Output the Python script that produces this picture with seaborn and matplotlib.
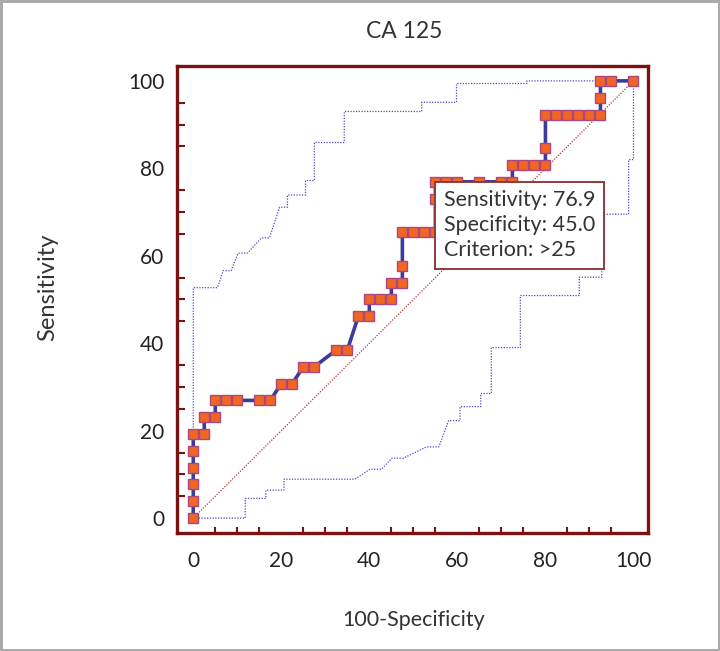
import numpy as np
import pandas as pd
import matplotlib
matplotlib.use("Agg")
import matplotlib.pyplot as plt
import seaborn as sns
from matplotlib.ticker import MultipleLocator

# Empirical ROC curve for CA 125 (100-Specificity vs Sensitivity)
roc_fpr = [0, 0, 0, 0, 0, 0, 2.5, 2.5, 5, 5, 7.5, 10, 15, 17.5, 20, 22.5, 25, 27.5,
           32.5, 35, 37.5, 40, 40, 42.5, 45, 45, 47.5, 47.5, 47.5, 50, 52.5, 55, 55, 55,
           57.5, 60, 65, 70, 72.5, 72.5, 75, 77.5, 80, 80, 80, 82.5, 85, 87.5, 90,
           92.5, 92.5, 92.5, 95, 100]
roc_tpr = [0, 3.85, 7.69, 11.54, 15.38, 19.23, 19.23, 23.08, 23.08, 26.92, 26.92, 26.92,
           26.92, 26.92, 30.77, 30.77, 34.62, 34.62, 38.46, 38.46, 46.15, 46.15, 50.0,
           50.0, 50.0, 53.85, 53.85, 57.69, 65.38, 65.38, 65.38, 65.38, 73.08, 76.92,
           76.92, 76.92, 76.92, 76.92, 76.92, 80.77, 80.77, 80.77, 80.77, 84.62, 92.31,
           92.31, 92.31, 92.31, 92.31, 92.31, 96.15, 100.0, 100.0, 100.0]

# 95% confidence bounds
upper_x = [0, 0, 5.5, 6.8, 8.6, 10.2, 12.3, 15.5, 17.3, 19.6, 21.4, 21.4, 25.5, 25.5,
           27.5, 27.5, 34.3, 34.3, 51.9, 51.9, 59.8, 59.8, 75.8, 75.8, 100]
upper_y = [0, 52.7, 52.7, 56.6, 56.6, 60.6, 60.6, 64.1, 64.1, 71.1, 71.1, 73.9, 73.9, 77.2,
           77.2, 85.9, 85.9, 93.0, 93.0, 95.1, 95.1, 99.4, 99.4, 100, 100]
lower_x = [0, 11.8, 11.8, 16.5, 16.5, 20.6, 20.6, 36.7, 40.2, 42.8, 45.1, 47.7, 53.0, 55.8,
           58.0, 60.6, 60.6, 65.3, 65.3, 67.7, 67.7, 74.3, 74.3, 87.7, 87.7, 92.8, 92.8,
           98.9, 98.9, 100, 100]
lower_y = [0, 0, 4.5, 4.5, 6.4, 6.4, 8.9, 8.9, 11.2, 11.2, 13.7, 13.7, 16.3, 16.3, 22.3,
           22.3, 25.5, 25.5, 28.5, 28.5, 39.0, 39.0, 50.9, 50.9, 55.1, 55.1, 69.5, 69.5,
           82.0, 82.0, 100]

diag = [0, 100]

crit_x, crit_y = 55, 76.92
info_lines = ["Sensitivity: 76.9", "Specificity: 45.0", "Criterion: >25"]

sns.set_theme(style="white")
plt.rcParams["font.family"] = ["Lato", "DejaVu Sans"]

spine_col = "#7a1214"
text_col = "#333333"

fig = plt.figure(figsize=(7.2, 6.51), dpi=100)
fig.patch.set_edgecolor("#aaaaaa")
fig.patch.set_linewidth(2.5)
ax = fig.add_axes([0.2458, 0.1813, 0.6542, 0.7173])

roc = pd.DataFrame({"fpr": roc_fpr, "tpr": roc_tpr})

# diagonal reference
sns.lineplot(x=diag, y=diag, ax=ax, color="#b03a3a", lw=0.9,
             linestyle=(0, (1, 1.2)), zorder=2)
# confidence bounds
sns.lineplot(x=upper_x, y=upper_y, ax=ax, sort=False, estimator=None,
             color="#4b4bc4", lw=0.9, linestyle=(0, (1, 1.2)), zorder=2)
sns.lineplot(x=lower_x, y=lower_y, ax=ax, sort=False, estimator=None,
             color="#4b4bc4", lw=0.9, linestyle=(0, (1, 1.2)), zorder=2)
# ROC curve
sns.lineplot(data=roc, x="fpr", y="tpr", ax=ax, sort=False, estimator=None,
             color="#3b3b9c", lw=2.6, marker="s", markersize=7.8,
             markerfacecolor="#f26522", markeredgecolor="#a8487e",
             markeredgewidth=1.0, zorder=3)

ax.annotate("\n".join(info_lines), xy=(crit_x, crit_y), xytext=(6.2, -6.2),
            textcoords="offset points", ha="left", va="top", fontsize=15.5,
            color=text_col, linespacing=1.3, zorder=5,
            bbox=dict(boxstyle="square,pad=0.4", fc="white", ec="#8e3a3a", lw=1.4))

ax.set_xlim(-3.7, 103.3)
ax.set_ylim(-3.4, 103.4)
ax.xaxis.set_major_locator(MultipleLocator(20))
ax.xaxis.set_minor_locator(MultipleLocator(5))
ax.yaxis.set_major_locator(MultipleLocator(20))
ax.yaxis.set_minor_locator(MultipleLocator(5))

for s in ax.spines.values():
    s.set_visible(True)
    s.set_color(spine_col)
    s.set_linewidth(2.4)

ax.tick_params(axis="both", which="major", direction="in", length=10, width=2.2,
               color=spine_col, labelsize=15, labelcolor="#222222")
ax.tick_params(axis="x", which="major", pad=13)
ax.tick_params(axis="y", which="major", pad=9)
ax.tick_params(axis="x", which="minor", direction="in", length=4.5, width=1.5,
               color=spine_col, bottom=True)
ax.tick_params(axis="y", which="minor", direction="in", length=5.8, width=1.5,
               color=spine_col, left=True)

ax.set_title("CA 125", fontsize=16.5, color=text_col, pad=20, x=0.482)
ax.set_xlabel("100-Specificity", fontsize=15.5, color=text_col, labelpad=29)
ax.xaxis.set_label_coords(0.503, -0.165)
ax.set_ylabel("Sensitivity", fontsize=17, color=text_col, labelpad=50)
ax.yaxis.label.set_y(0.526)

fig.savefig("out.png", dpi=100, edgecolor=fig.get_edgecolor())
